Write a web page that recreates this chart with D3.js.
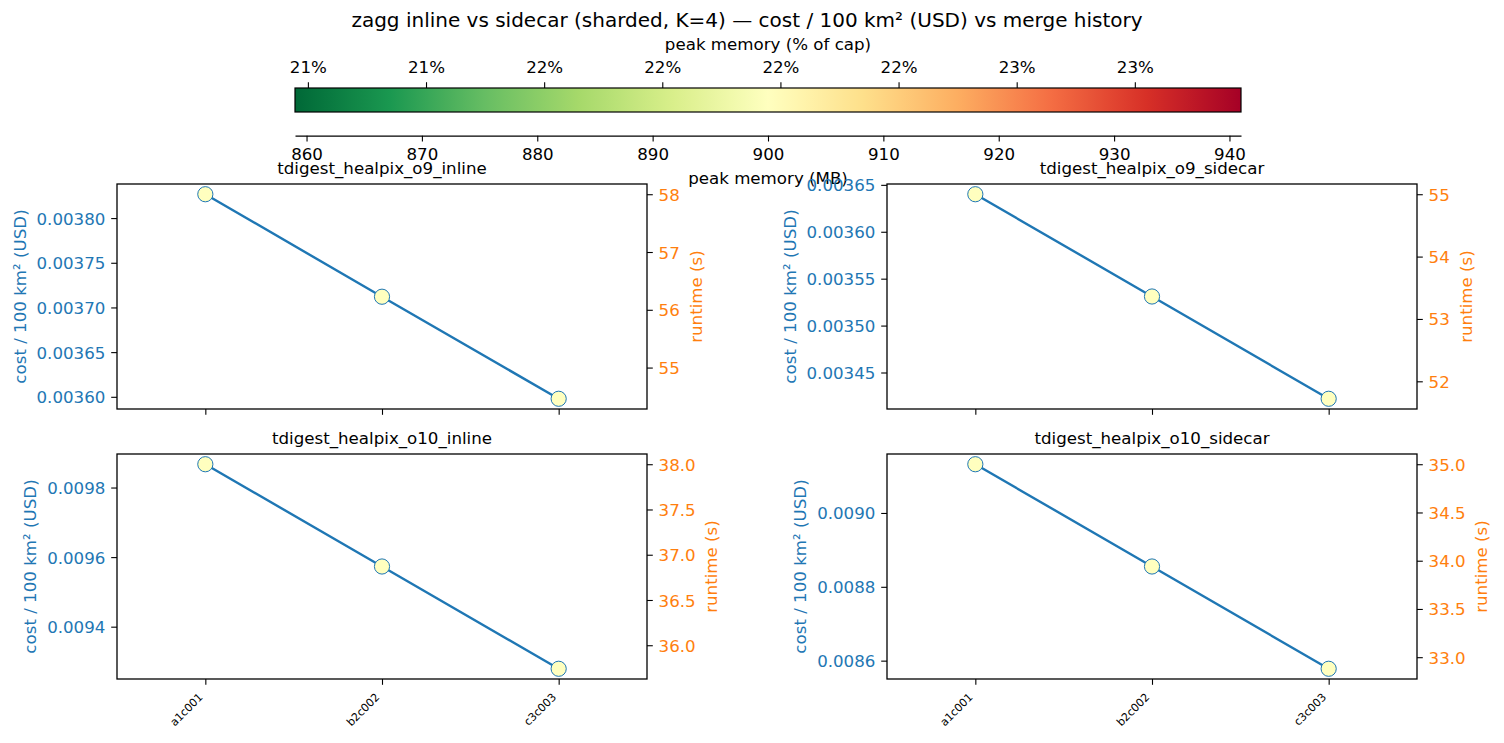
<!DOCTYPE html>
<html><head><meta charset="utf-8">
<script src="https://cdn.jsdelivr.net/npm/d3@7"></script>
<style>
body{margin:0;background:#fff}
text{font-family:"DejaVu Sans",sans-serif}
</style>
</head><body>
<svg id="c" width="1504" height="743" xmlns="http://www.w3.org/2000/svg"></svg>
<script>
// ---------------- data ----------------
const categories = ["a1c001", "b2c002", "c3c003"];
const panelNames = ["tdigest_healpix_o9_inline", "tdigest_healpix_o9_sidecar",
                    "tdigest_healpix_o10_inline", "tdigest_healpix_o10_sidecar"];

const costO9Inline    = [0.0038267, 0.0037120, 0.0035978];
const runtimeO9Inline = [58.00, 56.23, 54.46];
const memO9Inline     = [900, 900, 900];

const costO9Sidecar    = [0.003640, 0.003531, 0.003422];
const runtimeO9Sidecar = [55.00, 53.36, 51.72];
const memO9Sidecar     = [900, 900, 900];

const costO10Inline    = [0.009867, 0.009573, 0.009279];
const runtimeO10Inline = [38.00, 36.87, 35.74];
const memO10Inline     = [900, 900, 900];

const costO10Sidecar    = [0.009132, 0.008855, 0.008578];
const runtimeO10Sidecar = [35.00, 33.94, 32.88];
const memO10Sidecar     = [900, 900, 900];

const costTicksO9Inline     = ["0.00360", "0.00365", "0.00370", "0.00375", "0.00380"];
const runtimeTicksO9Inline  = ["55", "56", "57", "58"];
const costTicksO9Sidecar    = ["0.00345", "0.00350", "0.00355", "0.00360", "0.00365"];
const runtimeTicksO9Sidecar = ["52", "53", "54", "55"];
const costTicksO10Inline    = ["0.0094", "0.0096", "0.0098"];
const runtimeTicksO10Inline = ["36.0", "36.5", "37.0", "37.5", "38.0"];
const costTicksO10Sidecar   = ["0.0086", "0.0088", "0.0090"];
const runtimeTicksO10Sidecar= ["33.0", "33.5", "34.0", "34.5", "35.0"];

const memDomainMB   = [859, 941];
const memCapMB      = 4096;
const mbTicks       = [860, 870, 880, 890, 900, 910, 920, 930, 940];
const pctTicks      = [21, 21.25, 21.5, 21.75, 22, 22.25, 22.5, 22.75];
const pctTickLabels = ["21%", "21%", "22%", "22%", "22%", "22%", "23%", "23%"];
const rdYlGnColors  = ["#a50026","#d73027","#f46d43","#fdae61","#fee08b","#ffffbf",
                       "#d9ef8b","#a6d96a","#66bd63","#1a9850","#006837"];

const titleText = "zagg inline vs sidecar (sharded, K=4) \u2014 cost / 100 km\u00b2 (USD) vs merge history";

// ---------------- layout / style ----------------
const BLUE = "#1f77b4", ORANGE = "#ff7f0e";
const FS = 16.67, TICK = 5.8, PAD = 5.8, LABPAD = 6.7;
const W = 530, H = 225;
const panels = [
  {name: panelNames[0], x: 117, y: 184, cost: costO9Inline,  rt: runtimeO9Inline,  mem: memO9Inline,  ct: costTicksO9Inline,  rtt: runtimeTicksO9Inline,  bottom: false},
  {name: panelNames[1], x: 887, y: 184, cost: costO9Sidecar, rt: runtimeO9Sidecar, mem: memO9Sidecar, ct: costTicksO9Sidecar, rtt: runtimeTicksO9Sidecar, bottom: false},
  {name: panelNames[2], x: 117, y: 454, cost: costO10Inline, rt: runtimeO10Inline, mem: memO10Inline, ct: costTicksO10Inline, rtt: runtimeTicksO10Inline, bottom: true},
  {name: panelNames[3], x: 887, y: 454, cost: costO10Sidecar,rt: runtimeO10Sidecar,mem: memO10Sidecar,ct: costTicksO10Sidecar,rtt: runtimeTicksO10Sidecar,bottom: true},
];

const svg = d3.select("#c");
const cmap = d3.piecewise(d3.interpolateRgb, rdYlGnColors.slice().reverse());
const color = d3.scaleSequential(cmap).domain(memDomainMB);

// title
svg.append("text").attr("x", 747).attr("y", 27).attr("text-anchor", "middle")
  .attr("font-size", 20).attr("fill", "#000").text(titleText);

// ---------------- colorbar ----------------
const cbX0 = 295, cbX1 = 1241, cbY0 = 88, cbY1 = 112;
const mx = d3.scaleLinear().domain(memDomainMB).range([cbX0, cbX1]);
const grad = svg.append("defs").append("linearGradient").attr("id", "cbg")
  .attr("x1", "0%").attr("x2", "100%").attr("y1", "0%").attr("y2", "0%");
d3.range(0, 1.0001, 0.02).forEach(t => {
  grad.append("stop").attr("offset", (t * 100) + "%").attr("stop-color", cmap(t));
});
svg.append("rect").attr("x", cbX0).attr("y", cbY0).attr("width", cbX1 - cbX0).attr("height", cbY1 - cbY0)
  .attr("fill", "url(#cbg)").attr("stroke", "#000").attr("stroke-width", 1.2);

// top (% of cap) axis
const topG = svg.append("g");
pctTicks.forEach((p, i) => {
  const xx = mx(p / 100 * memCapMB);
  topG.append("line").attr("x1", xx).attr("x2", xx).attr("y1", cbY0).attr("y2", cbY0 - TICK)
    .attr("stroke", "#000").attr("stroke-width", 1.1);
  topG.append("text").attr("x", xx).attr("y", 73).attr("text-anchor", "middle")
    .attr("font-size", FS).text(pctTickLabels[i]);
});
svg.append("text").attr("x", (cbX0 + cbX1) / 2).attr("y", 50).attr("text-anchor", "middle")
  .attr("font-size", FS).text("peak memory (% of cap)");

// bottom (MB) axis
const botY = 135.7;
const botAxis = svg.append("g").attr("transform", `translate(0,${botY})`)
  .call(d3.axisBottom(mx).tickValues(mbTicks).tickFormat(d3.format("d")).tickSize(TICK).tickPadding(PAD).tickSizeOuter(0));
botAxis.select(".domain").attr("stroke-width", 1.3);
botAxis.selectAll(".tick line").attr("stroke-width", 1.1);
botAxis.selectAll("text").attr("font-size", FS).attr("font-family", "DejaVu Sans").attr("fill", "#000").attr("dy", "0.76em");
botAxis.attr("font-size", null).attr("font-family", null);
svg.append("text").attr("x", (cbX0 + cbX1) / 2).attr("y", 184).attr("text-anchor", "middle")
  .attr("font-size", FS).text("peak memory (MB)");

// ---------------- panels ----------------
function padExtent(arr) {
  const [a, b] = d3.extent(arr);
  const r = b - a;
  return [a - 0.05 * r, b + 0.05 * r];
}

panels.forEach(p => {
  const g = svg.append("g").attr("transform", `translate(${p.x},${p.y})`);
  const x = d3.scalePoint().domain(categories).range([0, W]).padding(0.5);
  const yL = d3.scaleLinear().domain(padExtent(p.cost)).range([H, 0]);
  const yR = d3.scaleLinear().domain(padExtent(p.rt)).range([H, 0]);

  // title
  g.append("text").attr("x", W / 2).attr("y", -10).attr("text-anchor", "middle")
    .attr("font-size", FS).text(p.name);

  // left axis
  const la = g.append("g").call(d3.axisLeft(yL).tickValues(p.ct.map(Number))
      .tickFormat((d, i) => p.ct[i]).tickSize(TICK).tickPadding(PAD).tickSizeOuter(0));
  la.attr("font-size", null).attr("font-family", null);
  la.select(".domain").remove();
  la.selectAll(".tick line").attr("stroke", "#000").attr("stroke-width", 1.1);
  la.selectAll("text").attr("font-size", FS).attr("fill", BLUE).attr("dy", "0.36em");

  // right axis
  const ra = g.append("g").attr("transform", `translate(${W},0)`)
    .call(d3.axisRight(yR).tickValues(p.rtt.map(Number))
      .tickFormat((d, i) => p.rtt[i]).tickSize(TICK).tickPadding(PAD).tickSizeOuter(0));
  ra.attr("font-size", null).attr("font-family", null);
  ra.select(".domain").remove();
  ra.selectAll(".tick line").attr("stroke", "#000").attr("stroke-width", 1.1);
  ra.selectAll("text").attr("font-size", FS).attr("fill", ORANGE).attr("dy", "0.36em");

  // bottom axis
  const ba = g.append("g").attr("transform", `translate(0,${H})`)
    .call(d3.axisBottom(x).tickSize(TICK).tickSizeOuter(0).tickFormat(""));
  ba.attr("font-size", null).attr("font-family", null);
  ba.select(".domain").remove();
  ba.selectAll(".tick line").attr("stroke", "#000").attr("stroke-width", 1.1);
  if (p.bottom) {
    const fs = 11;
    categories.forEach(c => {
      const ex = x(c) - 0.707 * 0.236 * fs;
      const ey = H + TICK + PAD + 0.707 * 0.93 * fs;
      g.append("text").attr("transform", `translate(${ex},${ey}) rotate(-45)`)
        .attr("text-anchor", "end").attr("font-size", fs).text(c);
    });
  }

  // axis labels
  const lb = la.node().getBBox();
  const lx = lb.x - LABPAD - 0.236 * FS;
  g.append("text").attr("transform", `translate(${lx},${H / 2}) rotate(-90)`)
    .attr("text-anchor", "middle").attr("font-size", FS).attr("fill", BLUE)
    .text("cost / 100 km\u00b2 (USD)");
  const rb = ra.node().getBBox();
  const rx = W + rb.x + rb.width + LABPAD + 0.9 * FS;
  g.append("text").attr("transform", `translate(${rx},${H / 2}) rotate(-90)`)
    .attr("text-anchor", "middle").attr("font-size", FS).attr("fill", ORANGE)
    .text("runtime (s)");

  // line
  const line = d3.line().x((d, i) => x(categories[i])).y(d => yL(d));
  g.append("path").datum(p.cost).attr("d", line).attr("fill", "none")
    .attr("stroke", BLUE).attr("stroke-width", 2.4);

  // markers
  g.selectAll("circle").data(p.cost).join("circle")
    .attr("cx", (d, i) => x(categories[i])).attr("cy", d => yL(d)).attr("r", 7.6)
    .attr("fill", (d, i) => color(p.mem[i])).attr("stroke", BLUE).attr("stroke-width", 1);

  // frame
  g.append("rect").attr("width", W).attr("height", H).attr("fill", "none")
    .attr("stroke", "#000").attr("stroke-width", 1.3);
});
</script>
</body></html>
